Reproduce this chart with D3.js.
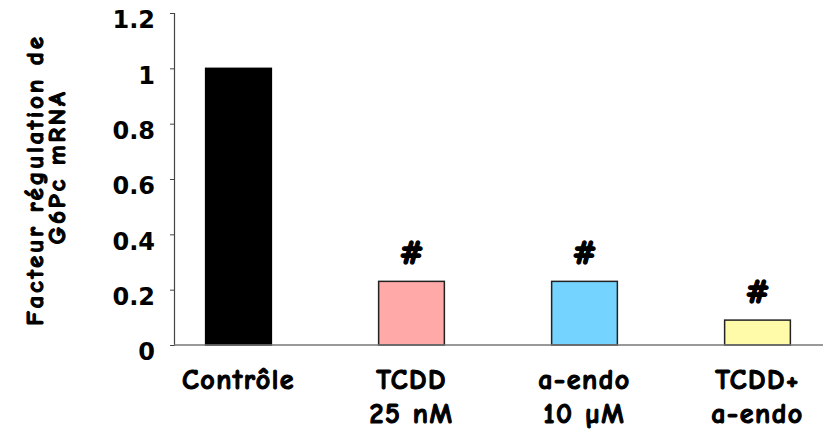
<!DOCTYPE html>
<html>
<head>
<meta charset="utf-8">
<script src="https://cdn.jsdelivr.net/npm/d3@7"></script>
<style>
  html, body { margin: 0; padding: 0; background: #fff; }
  svg { display: block; }
  text { font-family: "Comic Sans MS", "Comic Neue", "DejaVu Sans", sans-serif; font-weight: bold; fill: #000; }
  .heavy { stroke: #000; stroke-width: 1.1px; paint-order: stroke; }
</style>
</head>
<body>
<svg id="chart" width="830" height="437"></svg>
<script>
const categories = ["Contrôle", "TCDD|25 nM", "a-endo|10 µM", "TCDD+|a-endo"];
const values = [1.0, 0.23, 0.23, 0.09];
const colors = ["#000000", "#FFA9A9", "#75D4FF", "#FFFBA9"];
const significance = ["", "#", "#", "#"];
const yTicks = [0, 0.2, 0.4, 0.6, 0.8, 1, 1.2];
const yTitle = ["Facteur régulation de", "G6Pc mRNA"];

const svg = d3.select("#chart");
const plot = { left: 174, right: 823, top: 13, bottom: 345 };

const y = d3.scaleLinear().domain([0, 1.2]).range([plot.bottom, plot.top]);
const x = d3.scaleBand().domain(categories).range([152, 844]).paddingInner(0.62).paddingOuter(0.31);

// Y axis
const yAxis = d3.axisLeft(y).tickValues(yTicks).tickSize(4).tickPadding(15)
  .tickFormat(d => d === 0 ? "0" : d === 1 ? "1" : d3.format(".1f")(d));
const gy = svg.append("g").attr("transform", `translate(${plot.left},0)`).call(yAxis);
gy.select(".domain").attr("stroke", "#444").attr("stroke-width", 1.2);
gy.selectAll(".tick line").attr("stroke", "#444");
gy.selectAll(".tick text")
  .style("font-family", "'DejaVu Sans', sans-serif")
  .style("font-size", "24px")
  .attr("dy", "0.62em");

// Bars
svg.append("g").selectAll("rect").data(categories).join("rect")
  .attr("x", d => x(d))
  .attr("y", (d, i) => y(values[i]))
  .attr("width", x.bandwidth())
  .attr("height", (d, i) => y(0) - y(values[i]))
  .attr("fill", (d, i) => colors[i])
  .attr("stroke", (d, i) => i === 0 ? "#000" : "#222")
  .attr("stroke-width", 1.5);

// X axis baseline
svg.append("line")
  .attr("x1", plot.left).attr("x2", plot.right)
  .attr("y1", y(0)).attr("y2", y(0))
  .attr("stroke", "#777").attr("stroke-width", 1.5);

// Significance marks
svg.append("g").selectAll("text").data(categories).join("text")
  .attr("class", "heavy")
  .attr("x", d => x(d) + x.bandwidth() / 2)
  .attr("y", (d, i) => y(values[i]) - 17)
  .attr("text-anchor", "middle")
  .style("font-size", "34px")
  .style("stroke-width", "1.4px")
  .text((d, i) => significance[i]);

// Category labels
const lbl = svg.append("g").selectAll("text").data(categories).join("text")
  .attr("class", "heavy")
  .attr("text-anchor", "middle")
  .style("font-size", "28px")
  .style("letter-spacing", "1.5px");
lbl.each(function(d) {
  const parts = d.split("|");
  const t = d3.select(this);
  parts.forEach((p, k) => {
    t.append("tspan")
      .attr("x", x(d) + x.bandwidth() / 2)
      .attr("y", 389 + k * 34)
      .text(p);
  });
});

// Y title
const yt = svg.append("text")
  .attr("class", "heavy")
  .attr("transform", "translate(0,180) rotate(-90)")
  .attr("text-anchor", "middle")
  .style("font-size", "25px")
  .style("letter-spacing", "2.8px");
yTitle.forEach((line, k) => {
  yt.append("tspan").attr("x", k === 0 ? 0 : 13).attr("y", 43 + k * 22).text(line);
});
</script>
</body>
</html>
